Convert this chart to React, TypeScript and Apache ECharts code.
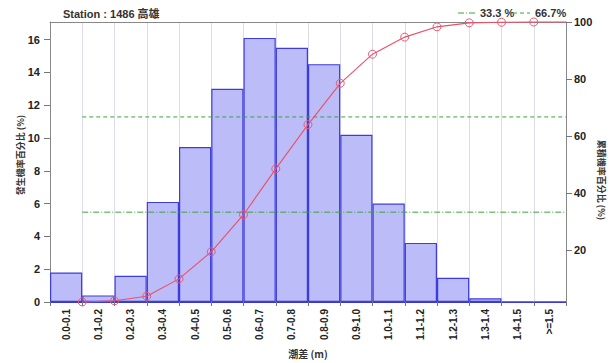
import React, { useEffect, useRef } from "react";
import * as echarts from "echarts";

const categories = [
  "0.0-0.1", "0.1-0.2", "0.2-0.3", "0.3-0.4", "0.4-0.5", "0.5-0.6", "0.6-0.7", "0.7-0.8",
  "0.8-0.9", "0.9-1.0", "1.0-1.1", "1.1-1.2", "1.2-1.3", "1.3-1.4", "1.4-1.5", ">=1.5",
];
const probability = [1.8, 0.4, 1.6, 6.1, 9.45, 13.0, 16.1, 15.5, 14.5, 10.2, 6.0, 3.6, 1.47, 0.22, 0.02, 0];
const binUpperEdges = [0.1, 0.2, 0.3, 0.4, 0.5, 0.6, 0.7, 0.8, 0.9, 1.0, 1.1, 1.2, 1.3, 1.4, 1.5, 1.6];
const cumulative = [1.8, 2.2, 3.8, 9.9, 19.4, 32.4, 48.5, 64.0, 78.5, 88.7, 94.7, 98.3, 99.7, 99.9, 100, 100];
const leftTicks = [0, 2, 4, 6, 8, 10, 12, 14, 16];
const rightTicks = [20, 40, 60, 80, 100];
const refLevels = [33.3, 66.7];
const refNames = ["33.3 %", "66.7%"];

const FONT = '"Liberation Sans", Arial, "Noto Sans CJK TC", sans-serif';
const CJK = '"Noto Sans CJK TC", "Noto Sans CJK SC", sans-serif';

export default function App() {
  const ref = useRef<HTMLDivElement>(null);
  useEffect(() => {
    if (!ref.current) return;
    const chart = echarts.init(ref.current, null, { renderer: "svg" });
    const green = "#3aa53a";
    const dashes = [[6, 2, 1, 2], [4, 3]];
    const legendX = [458, 513];
    const legendGraphics: any[] = [];
    refNames.forEach((nm, i) => {
      legendGraphics.push({
        type: "line",
        shape: { x1: legendX[i], y1: 13, x2: legendX[i] + 17, y2: 13 },
        style: { stroke: green, lineWidth: 1, lineDash: dashes[i] },
      });
      legendGraphics.push({
        type: "text",
        x: legendX[i] + 22,
        y: 13,
        style: {
          text: nm,
          fontSize: 11,
          fontWeight: "bold",
          fill: "#333",
          fontFamily: FONT,
          align: "left",
          verticalAlign: "middle",
        },
      });
    });
    const option: any = {
      animation: false,
      backgroundColor: "#ffffff",
      grid: { left: 50, top: 22, right: 49, bottom: 51, containLabel: false },
      title: {
        text: "Station : 1486 高雄",
        left: 58,
        top: 3,
        textStyle: { fontSize: 11, fontWeight: "bold", color: "#333", fontFamily: FONT },
      },
      xAxis: [
        {
          type: "category",
          data: categories,
          boundaryGap: true,
          position: "bottom",
          axisLine: { lineStyle: { color: "#3b3bc8", width: 1.2 } },
          axisTick: { show: true, length: 4, lineStyle: { color: "#777" } },
          axisLabel: {
            rotate: 90,
            margin: 7,
            fontSize: 10,
            fontWeight: "bold",
            color: "#222",
            fontFamily: FONT,
          },
          splitLine: { show: true, lineStyle: { color: "#dcdcec", width: 1 } },
          name: "潮差 (m)",
          nameLocation: "middle",
          nameGap: 42,
          nameTextStyle: { fontSize: 10, fontWeight: "bold", color: "#333", fontFamily: CJK },
        },
        {
          type: "value",
          min: 0,
          max: 1.6,
          position: "top",
          axisLine: { show: true, onZero: false, lineStyle: { color: "#888", width: 1 } },
          axisTick: { show: false },
          axisLabel: { show: false },
          splitLine: { show: false },
        },
      ],
      yAxis: [
        {
          type: "value",
          min: 0,
          max: 17.07,
          position: "left",
          axisLine: { show: true, lineStyle: { color: "#888", width: 1 } },
          axisTick: { show: true, length: 6, lineStyle: { color: "#777" }, customValues: leftTicks },
          axisLabel: {
            customValues: leftTicks,
            margin: 10,
            fontSize: 11,
            fontWeight: "bold",
            color: "#222",
            fontFamily: FONT,
          },
          splitLine: { show: false },
        },
        {
          type: "value",
          min: cumulative[0],
          max: 100,
          position: "right",
          axisLine: { show: true, onZero: false, lineStyle: { color: "#888", width: 1 } },
          axisTick: { show: true, length: 6, lineStyle: { color: "#777" }, customValues: rightTicks },
          axisLabel: {
            customValues: rightTicks,
            margin: 8,
            fontSize: 11,
            fontWeight: "bold",
            color: "#222",
            fontFamily: FONT,
          },
          splitLine: { show: false },
        },
      ],
      graphic: [
        {
          type: "text",
          x: 20,
          y: 155,
          rotation: Math.PI / 2,
          style: {
            text: "發生機率百分比 (%)",
            fontSize: 9,
            fontWeight: "bold",
            fill: "#333",
            fontFamily: CJK,
            align: "center",
            verticalAlign: "middle",
          },
        },
        {
          type: "text",
          x: 601,
          y: 180,
          rotation: -Math.PI / 2,
          style: {
            text: "累積機率百分比 (%)",
            fontSize: 9,
            fontWeight: "bold",
            fill: "#333",
            fontFamily: CJK,
            align: "center",
            verticalAlign: "middle",
          },
        },
        ...legendGraphics,
      ],
      series: [
        {
          type: "bar",
          xAxisIndex: 0,
          yAxisIndex: 0,
          data: probability,
          barCategoryGap: "0%",
          itemStyle: { color: "#bcbcf8", borderColor: "#3c3cdc", borderWidth: 1.2 },
          z: 2,
        },
        ...refLevels.map((lv, i) => ({
          type: "line",
          name: refNames[i],
          xAxisIndex: 1,
          yAxisIndex: 1,
          data: [
            [binUpperEdges[0], lv],
            [binUpperEdges[binUpperEdges.length - 1], lv],
          ],
          symbol: "none",
          color: green,
          lineStyle: { color: green, width: 1, type: dashes[i] },
          z: 3,
        })),
        {
          type: "line",
          name: "cum",
          xAxisIndex: 1,
          yAxisIndex: 1,
          data: binUpperEdges.map((x, i) =>
            i === binUpperEdges.length - 1
              ? { value: [x, cumulative[i]], symbol: "none" }
              : [x, cumulative[i]]
          ),
          symbol: "circle",
          symbolSize: 8,
          itemStyle: { color: "rgba(0,0,0,0)", borderColor: "#e85a72", borderWidth: 1 },
          lineStyle: { color: "#e8506a", width: 1.1 },
          clip: false,
          z: 4,
        },
      ],
    };
    chart.setOption(option);
    return () => chart.dispose();
  }, []);
  return (
    <div
      ref={ref}
      style={{ position: "fixed", left: 0, top: 0, width: 615, height: 363, background: "#fff" }}
    />
  );
}
